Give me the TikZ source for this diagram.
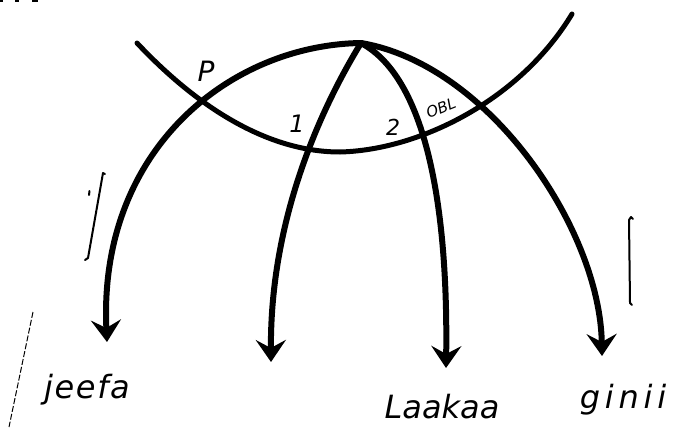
\documentclass[tikz,border=0pt]{standalone}
\usepackage{fontspec}
\setsansfont{DejaVu Sans}
\usetikzlibrary{arrows.meta}
\tikzset{
  stroke/.style={line width=5pt, line cap=round, line join=round},
  arrowline/.style={line width=6pt, line cap=round, line join=round,
    -{Stealth[length=22pt,width=30pt,inset=8pt]}},
  thin mark/.style={line width=2pt, line cap=round, line join=round},
  word/.style={font=\sffamily\itshape\fontsize{32}{34}\selectfont, inner sep=0pt, anchor=base},
  small/.style={font=\sffamily\itshape\fontsize{22}{24}\selectfont, inner sep=0pt},
}
\begin{document}
\begin{tikzpicture}[x=1pt,y=-1pt]
\useasboundingbox (0,0) rectangle (676,436);
\coordinate (apex) at (361,43);
\coordinate (a0) at (137,43);
\coordinate (low) at (340,152);
\coordinate (a1) at (572,14);
\coordinate (t1) at (107,342);
\coordinate (t2) at (271,362);
\coordinate (t3) at (446,368);
\coordinate (t4) at (602,356);
% big arc
\draw[stroke] (a0) .. controls (200,110) and (270,152) .. (low)
                   .. controls (420,150) and (520,100) .. (a1);
% arrows
\draw[arrowline] (apex) .. controls (230,45) and (98,150) .. (t1);
\draw[arrowline] (apex) .. controls (320,110) and (270,220) .. (t2);
\draw[arrowline] (apex) .. controls (430,80) and (448,220) .. (t3);
\draw[arrowline] (apex) .. controls (490,65) and (600,230) .. (t4);
% labels
\node[small, font=\sffamily\itshape\fontsize{28}{30}\selectfont] (p) at (206,71) {P};
\node[small, font=\sffamily\itshape\fontsize{24}{26}\selectfont] (one) at (297,124) {1};
\node[small] (two) at (393,127) {2};
\node[small, font=\sffamily\itshape\fontsize{15}{17}\selectfont, rotate=22] (obl) at (441,108) {OBL};
\node[word, font=\sffamily\itshape\fontsize{32}{34}\selectfont\addfontfeature{LetterSpace=5}] (jeefa) at (87,398) {jeefa};
\node[word] (laakaa) at (442,418) {Laakaa};
\node[word, font=\sffamily\itshape\fontsize{32}{34}\selectfont\addfontfeature{LetterSpace=15}] (ginii) at (623,408) {ginii};
% marks
\draw[thin mark] (105,174) -- (103,173) -- (88,258) -- (85,260);
\draw[thin mark] (89.5,191) -- (89,195);
\draw[thin mark] (633,219) -- (631,217) -- (629,220) -- (630,303) -- (632,305);
\draw[line width=1pt, dashed, dash pattern=on 6pt off 2pt] (33,312) -- (9,427);
\draw[line width=2pt] (0,1) -- (3,1) (15,1) -- (19,1) (32,1) -- (38,1);
\end{tikzpicture}
\end{document}
